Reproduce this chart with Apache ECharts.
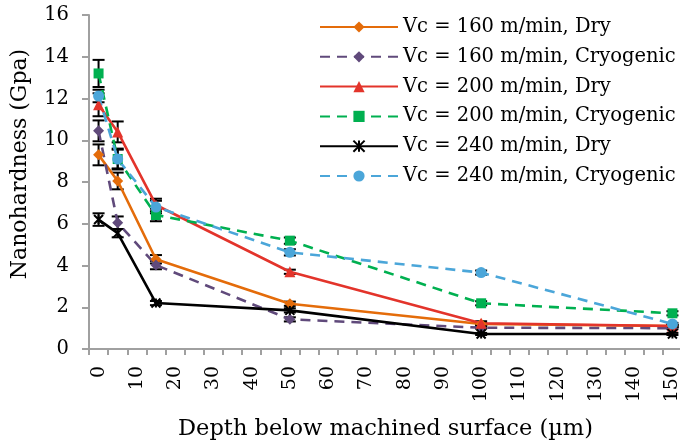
<!DOCTYPE html>
<html>
<head>
<meta charset="utf-8">
<script src="https://cdn.jsdelivr.net/npm/echarts@6/dist/echarts.min.js"></script>
<style>
  html, body { margin: 0; padding: 0; background: #fff; }
  #chart { width: 680px; height: 448px; }
</style>
</head>
<body>
<div id="chart"></div>
<script>
// Depth categories along the x axis (µm), every 5 µm
const depthCategories = ['0','5','10','15','20','25','30','35','40','45','50','55','60','65','70','75',
  '80','85','90','95','100','105','110','115','120','125','130','135','140','145','150'];
// Depths where hardness was measured
const depths = ['0', '5', '15', '50', '100', '150'];

const seriesNames = [
  'Vc = 160 m/min, Dry',
  'Vc = 160 m/min, Cryogenic',
  'Vc = 200 m/min, Dry',
  'Vc = 200 m/min, Cryogenic',
  'Vc = 240 m/min, Dry',
  'Vc = 240 m/min, Cryogenic'
];

// Nanohardness (GPa)
const dry160  = [9.3, 8.05, 4.3, 2.17, 1.2, 1.1];
const cryo160 = [10.45, 6.05, 4.02, 1.42, 1.02, 1.0];
const dry200  = [11.7, 10.4, 6.9, 3.7, 1.23, 1.1];
const cryo200 = [13.2, 9.1, 6.42, 5.19, 2.19, 1.71];
const dry240  = [6.2, 5.55, 2.2, 1.85, 0.72, 0.72];
const cryo240 = [12.12, 9.1, 6.8, 4.63, 3.66, 1.2];

// Standard deviations (GPa)
const dry160Err  = [0.5, 0.4, 0.2, 0.1, 0.05, 0.05];
const cryo160Err = [0.5, 0.3, 0.2, 0.1, 0.05, 0.05];
const dry200Err  = [0.55, 0.5, 0.3, 0.1, 0.1, 0.05];
const cryo200Err = [0.65, 0.45, 0.3, 0.15, 0.1, 0.1];
const dry240Err  = [0.3, 0.2, 0.1, 0.1, 0.05, 0.05];
const cryo240Err = [0.3, 0.5, 0.3, 0.15, 0.1, 0.05];

const yTicks = { min: 0, max: 16, interval: 2 };

const FONT = 'DejaVu Serif';
const starPath = 'path://M0,0L10,10M10,0L0,10M5,0L5,10';

const styles = [
  { color: '#E46C0A', dash: 'solid',  symbol: 'diamond',  size: 11 },
  { color: '#604A7B', dash: [10, 7],  symbol: 'diamond',  size: 11 },
  { color: '#E3342B', dash: 'solid',  symbol: 'triangle', size: 11 },
  { color: '#00B050', dash: [10, 7],  symbol: 'rect',     size: 10 },
  { color: '#000000', dash: 'solid',  symbol: starPath,   size: 9 },
  { color: '#4BA6D9', dash: [10, 7],  symbol: 'circle',   size: 11 }
];
const values = [dry160, cryo160, dry200, cryo200, dry240, cryo240];
const errors = [dry160Err, cryo160Err, dry200Err, cryo200Err, dry240Err, cryo240Err];

const lineSeries = values.map((vals, i) => ({
  name: seriesNames[i],
  type: 'line',
  z: 3,
  data: depths.map((d, k) => [d, vals[k]]),
  symbol: styles[i].symbol,
  symbolSize: styles[i].size,
  showAllSymbol: true,
  lineStyle: { color: styles[i].color, width: 2.6, type: styles[i].dash },
  itemStyle: i === 4
    ? { color: '#000', borderColor: '#000', borderWidth: 2 }
    : { color: styles[i].color, borderWidth: 0 },
  emphasis: { disabled: true },
  animation: false
}));

// Black error bars with caps
const errorData = [];
values.forEach((vals, i) => {
  vals.forEach((v, k) => {
    errorData.push([depthCategories.indexOf(depths[k]), v, errors[i][k]]);
  });
});

const errorSeries = {
  name: 'error',
  type: 'custom',
  z: 2,
  silent: true,
  animation: false,
  data: errorData,
  encode: { x: 0, y: 1 },
  renderItem: function (params, api) {
    const x = api.value(0), v = api.value(1), e = api.value(2);
    const hi = api.coord([x, v + e]);
    const lo = api.coord([x, v - e]);
    const half = 6;
    const style = { stroke: '#000', lineWidth: 2, fill: null };
    return {
      type: 'group',
      children: [
        { type: 'line', shape: { x1: hi[0], y1: hi[1], x2: lo[0], y2: lo[1] }, style: style },
        { type: 'line', shape: { x1: hi[0] - half, y1: hi[1], x2: hi[0] + half, y2: hi[1] }, style: style },
        { type: 'line', shape: { x1: lo[0] - half, y1: lo[1], x2: lo[0] + half, y2: lo[1] }, style: style }
      ]
    };
  }
};

const chart = echarts.init(document.getElementById('chart'), null, { renderer: 'canvas' });
chart.setOption({
  animation: false,
  backgroundColor: '#fff',
  textStyle: { fontFamily: FONT },
  grid: { left: 89, top: 15, width: 593, bottom: 99, outerBoundsMode: 'none', containLabel: false },
  legend: {
    data: seriesNames,
    orient: 'vertical',
    left: 314,
    top: 11,
    itemWidth: 78,
    itemHeight: 14,
    itemGap: 7.8,
    selectedMode: false,
    textStyle: { fontFamily: FONT, fontSize: 19.5, color: '#000', lineHeight: 22, padding: [0, 0, 0, 0] }
  },
  xAxis: {
    type: 'category',
    data: depthCategories,
    boundaryGap: true,
    name: 'Depth below machined surface (µm)',
    nameLocation: 'middle',
    nameGap: 69,
    nameTextStyle: { fontFamily: FONT, fontSize: 22.5, color: '#000' },
    axisLine: { lineStyle: { color: '#A0A0A0', width: 2 } },
    axisTick: { show: true, interval: 0, length: 6, lineStyle: { color: '#A0A0A0', width: 2 } },
    axisLabel: { interval: 1, rotate: 90, margin: 17, fontFamily: FONT, fontSize: 19, color: '#000' },
    splitLine: { show: false }
  },
  yAxis: {
    type: 'value',
    min: yTicks.min,
    max: yTicks.max,
    interval: yTicks.interval,
    name: 'Nanohardness (Gpa)',
    nameLocation: 'middle',
    nameGap: 58,
    nameTextStyle: { fontFamily: FONT, fontSize: 22, color: '#000', padding: [0, 0, 0, 36] },
    axisLine: { show: true, lineStyle: { color: '#A0A0A0', width: 2 } },
    axisTick: { show: true, length: 7, lineStyle: { color: '#A0A0A0', width: 2 } },
    axisLabel: { margin: 20, fontFamily: FONT, fontSize: 19.5, color: '#000' },
    splitLine: { show: false }
  },
  series: [errorSeries].concat(lineSeries)
});
</script>
</body>
</html>
